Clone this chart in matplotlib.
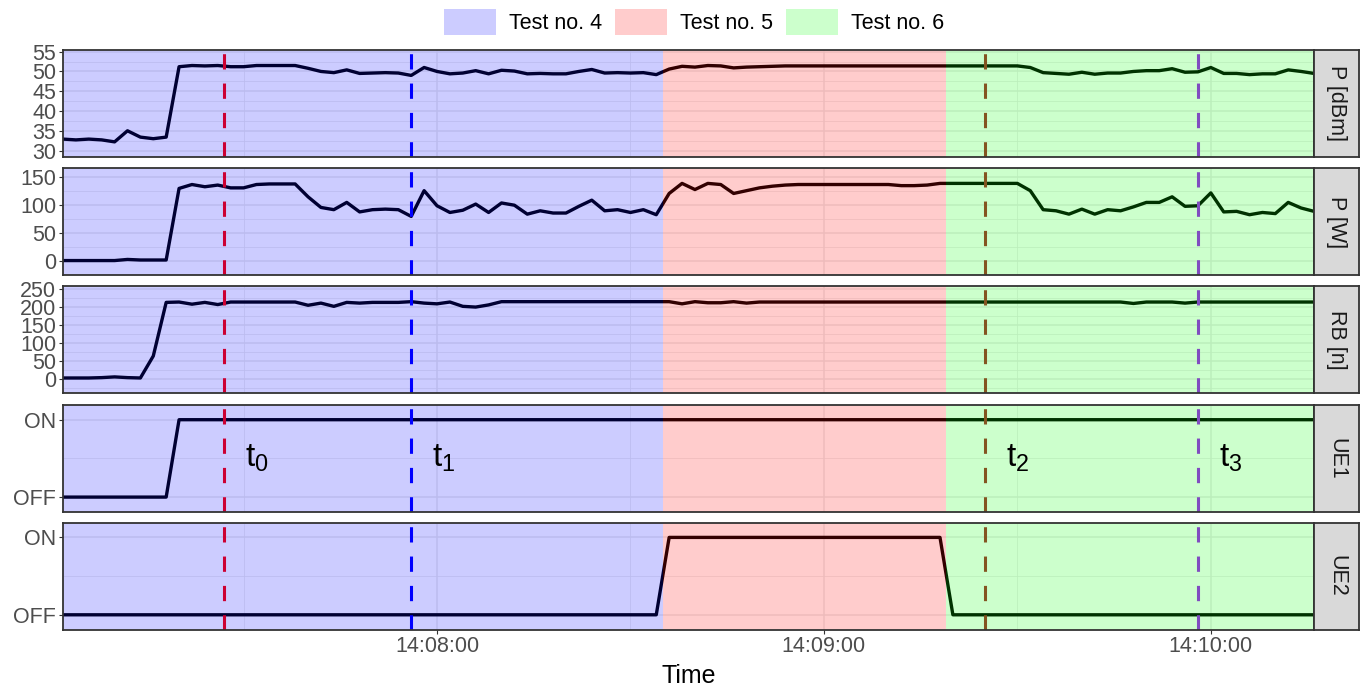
import matplotlib
matplotlib.use("Agg")
import matplotlib.pyplot as plt
import matplotlib.dates as mdates
from matplotlib.patches import Patch
import pandas as pd

plt.rcParams['font.family'] = ['Liberation Sans', 'DejaVu Sans']
plt.rcParams['mathtext.fontset'] = 'custom'
plt.rcParams['mathtext.rm'] = 'Liberation Sans'

# muestras cada 2 s desde 14:07:02
day = "2021-01-01 "
t_first = "14:07:02"
n_samples = 98

p_dbm = [32.9, 32.7, 32.9, 32.7, 32.2, 35.0, 33.4, 33.0, 33.4, 51.2,
         51.5, 51.4, 51.5, 51.2, 51.2, 51.5, 51.5, 51.5, 51.5, 50.8,
         50.0, 49.7, 50.4, 49.5, 49.6, 49.7, 49.6, 49.0, 51.0, 50.0,
         49.4, 49.6, 50.2, 49.4, 50.3, 50.1, 49.4, 49.5, 49.4, 49.4,
         50.0, 50.5, 49.6, 49.7, 49.6, 49.7, 49.2, 50.6, 51.3, 51.1,
         51.5, 51.4, 50.9, 51.1, 51.2, 51.3, 51.4, 51.4, 51.4, 51.4,
         51.4, 51.4, 51.4, 51.4, 51.4, 51.4, 51.4, 51.4, 51.4, 51.4,
         51.4, 51.4, 51.4, 51.4, 51.4, 51.0, 49.7, 49.5, 49.3, 49.8,
         49.3, 49.6, 49.6, 50.0, 50.2, 50.2, 50.7, 49.8, 49.9, 51.0,
         49.5, 49.5, 49.2, 49.4, 49.4, 50.4, 50.0, 49.5]

p_w = [1, 1, 1, 1, 1, 3, 2, 2, 2, 130,
       137, 133, 136, 131, 131, 137, 138, 138, 138, 115,
       96, 92, 105, 88, 92, 93, 92, 80, 126, 99,
       87, 91, 102, 87, 104, 100, 84, 90, 86, 86,
       98, 109, 90, 92, 87, 92, 83, 121, 139, 128,
       139, 137, 121, 126, 131, 134, 136, 137, 137, 137,
       137, 137, 137, 137, 137, 135, 135, 136, 139, 139,
       139, 139, 139, 139, 139, 126, 92, 90, 84, 93,
       84, 92, 90, 97, 105, 105, 115, 98, 99, 122,
       88, 89, 83, 87, 85, 105, 95, 89]

rb = [2, 2, 2, 3, 5, 3, 2, 63, 212, 213,
      207, 212, 206, 213, 213, 213, 213, 213, 213, 204,
      210, 201, 212, 210, 212, 212, 212, 214, 210, 208,
      213, 201, 199, 205, 214, 214, 214, 214, 214, 214,
      214, 214, 214, 214, 214, 214, 214, 214, 208, 214,
      211, 211, 214, 210, 213, 213, 213, 213, 213, 213,
      213, 213, 213, 213, 213, 213, 213, 213, 213, 213,
      213, 213, 213, 213, 213, 213, 213, 213, 213, 213,
      213, 213, 213, 209, 213, 213, 213, 210, 213, 213,
      213, 213, 213, 213, 213, 213, 213, 213]

ue1 = [0] * 9 + [1] * 89
ue2 = [0] * 47 + [1] * 22 + [0] * 29

test_names = ["Test no. 4", "Test no. 5", "Test no. 6"]
test_start = ["14:07:02", "14:08:35", "14:09:19"]
test_end = ["14:08:35", "14:09:19", "14:10:16"]
test_colors = ["blue", "red", "lime"]

event_labels = [r"$\mathregular{t_0}$", r"$\mathregular{t_1}$",
                r"$\mathregular{t_2}$", r"$\mathregular{t_3}$"]
event_times = ["14:07:27", "14:07:56", "14:09:25", "14:09:58"]
event_colors = ["red", "blue", "#A52A2A", "#A020F0"]

strip_labels = ["P [dBm]", "P [W]", "RB [n]", "UE1", "UE2"]


def tnum(s):
    return mdates.date2num(pd.Timestamp(day + s).to_pydatetime())


times = pd.date_range(day + t_first, periods=n_samples, freq="2s")
x = mdates.date2num(times.to_pydatetime())

W, H = 1362, 692
fig = plt.figure(figsize=(W / 100, H / 100), dpi=100)

panels = [
    (p_dbm, (28.5, 55.5), [30, 35, 40, 45, 50, 55], None),
    (p_w, (-25, 166), [0, 50, 100, 150], None),
    (rb, (-40, 256.7), [0, 50, 100, 150, 200, 250], None),
    (ue1, (-0.19, 1.19), [0, 1], ["OFF", "ON"]),
    (ue2, (-0.19, 1.19), [0, 1], ["OFF", "ON"]),
]
tops = [49.7, 168.3, 286.3, 405, 522.7]
ph = 106.8
left, right = 63, 1314
strip_w = 45

axes = []
for k, (vals, ylim, ticks, labels) in enumerate(panels):
    b = 1 - (tops[k] + ph) / H
    ax = fig.add_axes([left / W, b, (right - left) / W, ph / H])
    axes.append(ax)

    ax.plot(x, vals, color="black", lw=2.4, zorder=2, solid_joinstyle="round")
    for et, ec in zip(event_times, event_colors):
        ax.axvline(tnum(et), color=ec, lw=2.2, dashes=(5, 4.6), zorder=2.5)
    for ts, te, tc in zip(test_start, test_end, test_colors):
        ax.axvspan(tnum(ts), tnum(te), color=tc, alpha=0.2, lw=0, zorder=3)

    ax.set_yticks(ticks)
    if labels:
        ax.set_yticklabels(labels)
    step = ticks[1] - ticks[0]
    ax.set_yticks([t + step / 2 for t in [ticks[0] - step] + ticks], minor=True)
    ax.set_xlim(x[0], x[-1])
    ax.set_ylim(*ylim)

    ax.xaxis.set_major_locator(mdates.MinuteLocator())
    ax.xaxis.set_minor_locator(mdates.SecondLocator(bysecond=[30]))
    ax.xaxis.set_major_formatter(mdates.DateFormatter("%H:%M:%S"))

    ax.set_axisbelow(True)
    ax.grid(True, which="major", color="#EBEBEB", lw=1.1)
    ax.grid(True, which="minor", color="#EBEBEB", lw=0.55)
    ax.tick_params(which="minor", length=0)
    ax.tick_params(axis="both", which="major", length=2.9, width=0.8,
                   color="#333333", labelsize=15.5, labelcolor="#4D4D4D", pad=2)
    if k < 4:
        ax.tick_params(axis="x", bottom=False, labelbottom=False)
    for sp in ax.spines.values():
        sp.set_color("#333333")
        sp.set_linewidth(1.3)
        sp.set_zorder(6)

    # strip de la derecha
    st = fig.add_axes([right / W, b, strip_w / W, ph / H])
    st.set_facecolor("#D9D9D9")
    st.set_xticks([])
    st.set_yticks([])
    for sp in st.spines.values():
        sp.set_color("#333333")
        sp.set_linewidth(1.3)
    st.text(0.5, 0.5, strip_labels[k], rotation=-90, ha="center", va="center",
            fontsize=15.5, color="#1A1A1A", transform=st.transAxes)

# etiquetas t0..t3 en el panel UE1
for lab, et in zip(event_labels, event_times):
    axes[3].text(tnum(et) + 3.2 / 86400, 0.5, lab, fontsize=24, color="black",
                 ha="left", va="center", zorder=5)

fig.text((left + right) / 2 / W, 1 - 676 / H, "Time", ha="center", va="center",
         fontsize=18)

handles = [Patch(facecolor=c, alpha=0.2, edgecolor="none") for c in test_colors]
fig.legend(handles, test_names, loc="center", bbox_to_anchor=(694 / W, 1 - 22 / H),
           ncol=3, frameon=False, fontsize=15.5, handlelength=2.42,
           handleheight=1.44, handletextpad=0.6, columnspacing=0.6, borderpad=0)

fig.savefig("out.png", dpi=100)
